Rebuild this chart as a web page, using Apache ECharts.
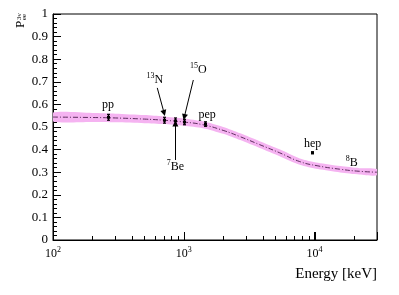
<!DOCTYPE html>
<html><head><meta charset="utf-8">
<script src="https://cdn.jsdelivr.net/npm/echarts@6/dist/echarts.min.js"></script>
<style>html,body{margin:0;padding:0;background:#fff}#c{width:399px;height:295px}</style>
</head><body><div id="c"></div>
<script>
const FONT = '"Liberation Serif", "Times New Roman", serif';

// Survival probability curve (energy in keV)
const curveE = [100, 200, 300, 500, 700, 1000, 1400, 2000, 2700, 3800, 5400, 7700, 10600, 15700, 22000, 30000];
const curveP = [0.544, 0.542, 0.540, 0.535, 0.530, 0.522, 0.510, 0.485, 0.457, 0.422, 0.386, 0.347, 0.328, 0.313, 0.304, 0.300];
const bandLow  = [0.524, 0.522, 0.521, 0.517, 0.513, 0.506, 0.495, 0.470, 0.442, 0.407, 0.371, 0.333, 0.314, 0.299, 0.290, 0.286];
const bandHigh = [0.564, 0.562, 0.559, 0.553, 0.547, 0.538, 0.525, 0.500, 0.472, 0.437, 0.401, 0.361, 0.342, 0.327, 0.318, 0.314];

// Solar neutrino sources (points with error bars)
const srcNames = ['pp', '13N', '7Be', '15O', 'pep', 'hep'];
const srcE   = [265, 707, 862, 996, 1442, 9620];
const srcP   = [0.543, 0.530, 0.527, 0.522, 0.513, 0.386];
const srcErr = [0.013, 0.013, 0.013, 0.012, 0.010, 0.004];

// Text annotations
const labelText = ['pp', '13N', '7Be', '15O', 'pep', 'hep', '8B'];
const labelE = [263, 600, 861, 1291, 1510, 9660, 19200];
const labelP = [0.602, 0.712, 0.327, 0.757, 0.558, 0.430, 0.345];

// Arrows
const arrowFromE = [627, 1183, 862];
const arrowFromP = [0.673, 0.708, 0.354];
const arrowToE   = [707, 1009, 862];
const arrowToP   = [0.562, 0.544, 0.516];

// Axis ticks (energy in keV, axis drawn in log10 units)
const xMinE = 100, xMaxE = 30000;
const majorTickE = [100, 1000, 10000];
const minorTickE = [200, 300, 400, 500, 600, 700, 800, 900, 2000, 3000, 4000, 5000, 6000, 7000, 8000, 9000, 20000];

const L = Math.log10;
const xMin = L(xMinE), xMax = L(xMaxE);

const richText = {
  n: { fontFamily: FONT, fontSize: 12, fill: '#000', lineHeight: 14, verticalAlign: 'bottom' },
  s: { fontFamily: FONT, fontSize: 8, fill: '#000', lineHeight: 14, verticalAlign: 'top' }
};
function labelFmt(t) {
  const m = t.match(/^(\d*)(.*)$/);
  return (m[1] ? '{s|' + m[1] + '}' : '') + '{n|' + m[2] + '}';
}

const tickData = majorTickE.map(e => [L(e), 0, 8]).concat(minorTickE.map(e => [L(e), 0, 4]));

const chart = echarts.init(document.getElementById('c'), null, { renderer: 'canvas' });
chart.setOption({
  animation: false,
  backgroundColor: '#fff',
  grid: { left: 53, right: 22, top: 14, bottom: 55, show: true, borderColor: '#000', borderWidth: 1, backgroundColor: 'transparent' },
  xAxis: {
    type: 'value', min: xMin, max: xMax, interval: 1, position: 'bottom',
    axisLine: { show: true, onZero: false, lineStyle: { color: '#000', width: 1 } },
    axisTick: { show: true, inside: true, length: 8, lineStyle: { color: '#000' } },
    splitLine: { show: false },
    axisLabel: {
      margin: 6, color: '#000',
      formatter: function (v) {
        if (Math.abs(v - Math.round(v)) > 1e-6) return '';
        return '{b|10}{s|' + Math.round(v) + '}';
      },
      rich: {
        b: { fontFamily: FONT, fontSize: 12, color: '#000', lineHeight: 14, verticalAlign: 'bottom' },
        s: { fontFamily: FONT, fontSize: 8, color: '#000', lineHeight: 14, verticalAlign: 'top' }
      }
    }
  },
  yAxis: {
    type: 'value', min: 0, max: 1, interval: 0.1,
    axisLine: { show: true, lineStyle: { color: '#000', width: 1 } },
    axisTick: { show: true, inside: true, length: 8, lineStyle: { color: '#000' } },
    minorTick: { show: true, splitNumber: 5, length: 4, lineStyle: { color: '#000' } },
    splitLine: { show: false },
    axisLabel: { fontFamily: FONT, fontSize: 13, color: '#000', margin: 5 }
  },
  graphic: [
    {
      type: 'group', x: 21, y: 28, rotation: Math.PI / 2,
      children: [
        { type: 'text', x: 0, y: 0, style: { text: 'P', font: '13px ' + FONT, fill: '#000', align: 'left', verticalAlign: 'middle' } },
        { type: 'text', x: 8, y: -2, style: { text: '3ν', font: '7px ' + FONT, fill: '#000', align: 'left', verticalAlign: 'middle' } },
        { type: 'text', x: 8, y: 3.5, style: { text: 'ee', font: '7px ' + FONT, fill: '#000', align: 'left', verticalAlign: 'middle' } }
      ]
    },
    { type: 'text', x: 377, y: 274, style: { text: 'Energy [keV]', font: '15px ' + FONT, fill: '#000', align: 'right', verticalAlign: 'middle' } }
  ],
  series: [
    {
      name: 'xTicks', type: 'custom', silent: true, clip: false, z: 5,
      encode: { x: 0, y: 1 },
      data: tickData,
      renderItem: function (params, api) {
        const c = api.coord([api.value(0), 0]);
        const len = api.value(2);
        const x = Math.round(c[0]) + 0.5;
        return { type: 'line', shape: { x1: x, y1: c[1], x2: x, y2: c[1] - len }, style: { stroke: '#000', lineWidth: 1 } };
      }
    },
    {
      name: 'band', type: 'custom', silent: true, clip: true, z: 1,
      encode: { x: 0, y: [1, 2] },
      data: curveE.map((e, i) => [L(e), bandLow[i], bandHigh[i]]),
      renderItem: function (params, api) {
        if (params.dataIndex !== 0) return null;
        const pts = [];
        for (let i = 0; i < curveE.length; i++) pts.push(api.coord([L(curveE[i]), bandHigh[i]]));
        for (let i = curveE.length - 1; i >= 0; i--) pts.push(api.coord([L(curveE[i]), bandLow[i]]));
        return { type: 'polygon', shape: { points: pts, smooth: 0.25 }, style: { fill: '#f5b3f1' } };
      }
    },
    {
      name: 'Pee', type: 'line', smooth: true, symbol: 'none', silent: true, z: 2,
      lineStyle: { color: '#5e2d5e', width: 1, type: [5, 2, 1, 2] },
      data: curveE.map((e, i) => [L(e), curveP[i]])
    },
    {
      name: 'sources', type: 'custom', silent: true, z: 3,
      encode: { x: 0, y: 1 },
      data: srcE.map((e, i) => [L(e), srcP[i], srcErr[i]]),
      renderItem: function (params, api) {
        const e = api.value(0), p = api.value(1), err = api.value(2);
        const c = api.coord([e, p]);
        const lo = api.coord([e, p - err]);
        const hi = api.coord([e, p + err]);
        const x = Math.round(c[0]) + 0.5;
        const st = { stroke: '#000', lineWidth: 1.2 };
        return {
          type: 'group', children: [
            { type: 'line', shape: { x1: x, y1: lo[1], x2: x, y2: hi[1] }, style: st },
            { type: 'line', shape: { x1: x - 1.5, y1: lo[1], x2: x + 1.5, y2: lo[1] }, style: st },
            { type: 'line', shape: { x1: x - 1.5, y1: hi[1], x2: x + 1.5, y2: hi[1] }, style: st },
            { type: 'rect', shape: { x: x - 1.5, y: c[1] - 1.5, width: 3, height: 3 }, style: { fill: '#000' } }
          ]
        };
      }
    },
    {
      name: 'labels', type: 'custom', silent: true, z: 4,
      encode: { x: 0, y: 1 },
      data: labelE.map((e, i) => [L(e), labelP[i], i]),
      renderItem: function (params, api) {
        const c = api.coord([api.value(0), api.value(1)]);
        const i = api.value(2);
        return {
          type: 'text', x: c[0], y: c[1],
          style: { text: labelFmt(labelText[i]), rich: richText, align: 'center', verticalAlign: 'middle', fill: '#000' }
        };
      },
      markLine: {
        silent: true, animation: false,
        symbol: ['none', 'triangle'], symbolSize: 6,
        label: { show: false },
        lineStyle: { color: '#000', width: 1, type: 'solid' },
        data: arrowFromE.map((e, i) => [
          { coord: [L(e), arrowFromP[i]] },
          { coord: [L(arrowToE[i]), arrowToP[i]] }
        ])
      }
    }
  ]
});
</script></body></html>
